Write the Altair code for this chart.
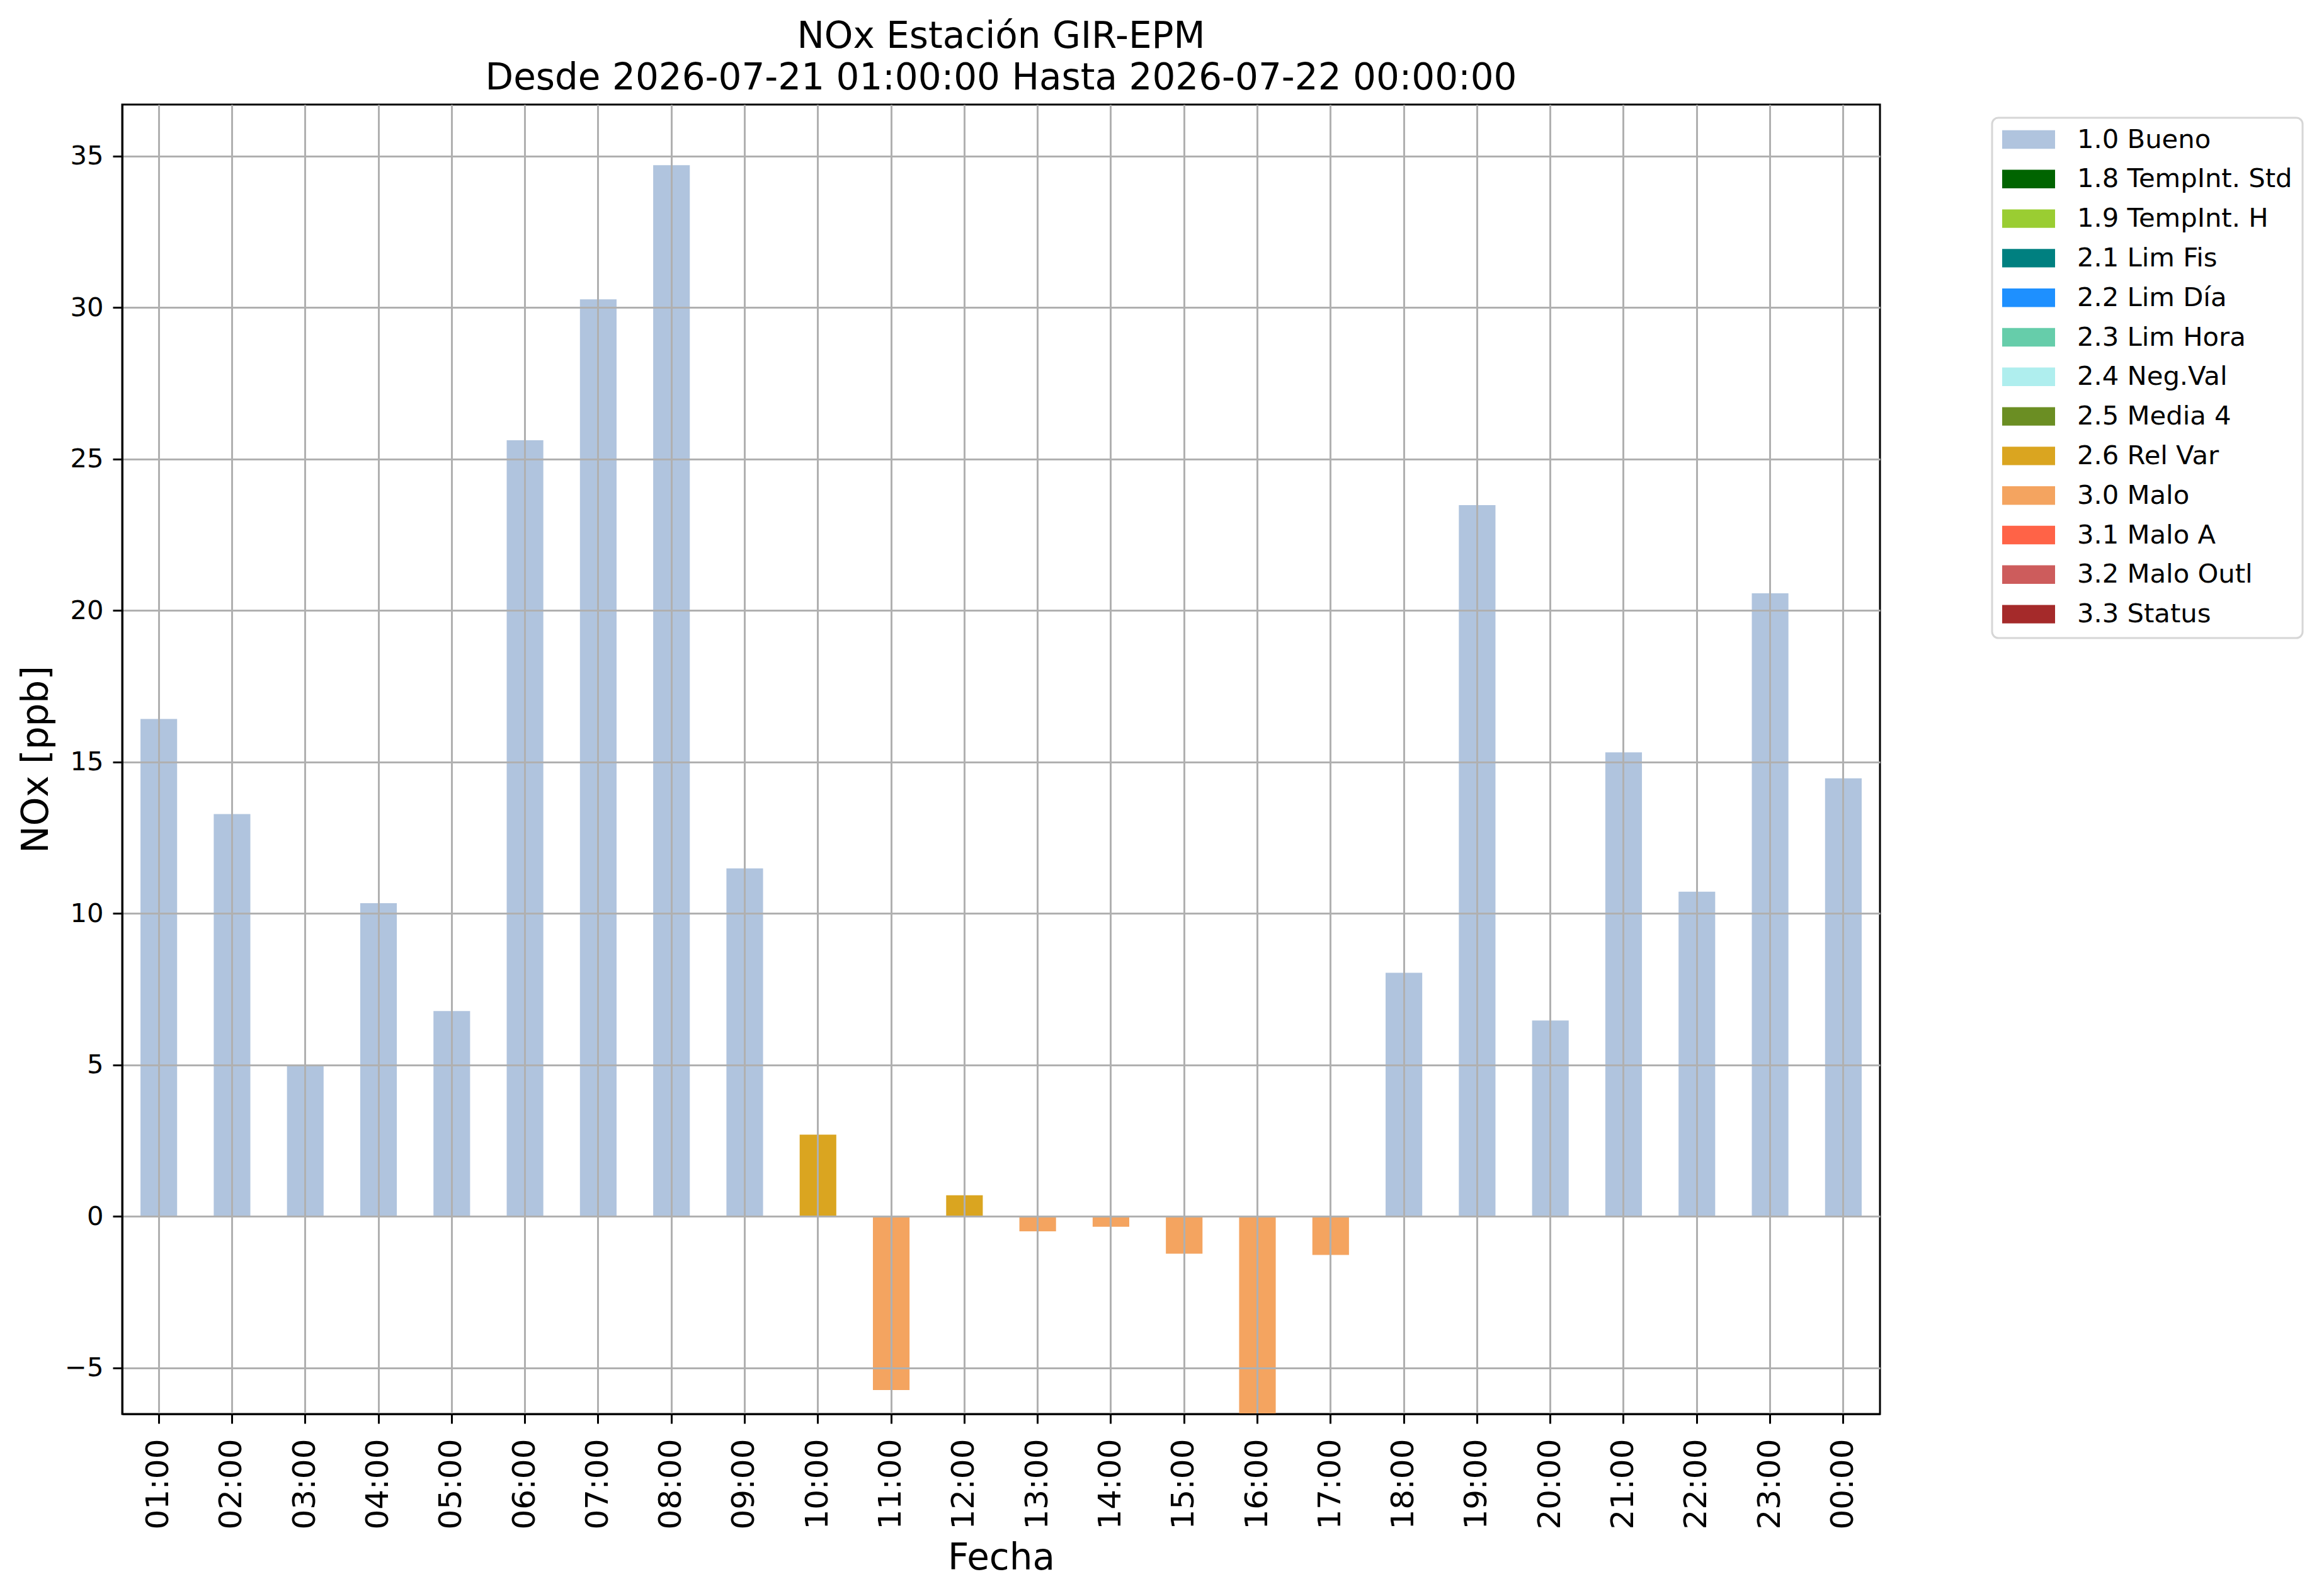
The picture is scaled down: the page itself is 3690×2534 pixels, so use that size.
import altair as alt
import pandas as pd

# ---- data ----
hours = ["01:00", "02:00", "03:00", "04:00", "05:00", "06:00", "07:00", "08:00",
         "09:00", "10:00", "11:00", "12:00", "13:00", "14:00", "15:00", "16:00",
         "17:00", "18:00", "19:00", "20:00", "21:00", "22:00", "23:00", "00:00"]
values = [16.42, 13.28, 5.00, 10.34, 6.78, 25.62, 30.27, 34.70,
          11.49, 2.70, -5.73, 0.70, -0.49, -0.34, -1.23, -6.52,
          -1.27, 8.04, 23.48, 6.47, 15.32, 10.72, 20.57, 14.46]
flags = ["1.0 Bueno"] * 9 + ["2.6 Rel Var", "3.0 Malo", "2.6 Rel Var"] + \
        ["3.0 Malo"] * 5 + ["1.0 Bueno"] * 7

flag_labels = ["1.0 Bueno", "1.8 TempInt. Std", "1.9 TempInt. H", "2.1 Lim Fis",
               "2.2 Lim Día", "2.3 Lim Hora", "2.4 Neg.Val", "2.5 Media 4",
               "2.6 Rel Var", "3.0 Malo", "3.1 Malo A", "3.2 Malo Outl", "3.3 Status"]
flag_colors = ["#B0C4DE", "#006400", "#9ACD32", "#008080", "#1E90FF", "#66CDAA",
               "#AFEEEE", "#6B8E23", "#DAA520", "#F4A460", "#FF6347", "#CD5C5C",
               "#A52A2A"]

y_ticks = [-5, 0, 5, 10, 15, 20, 25, 30, 35]

title_lines = ["NOx Estación GIR-EPM",
               "Desde 2026-07-21 01:00:00 Hasta 2026-07-22 00:00:00"]

df = pd.DataFrame({"hora": hours, "valor": values, "flag": flags})

FONT = "DejaVu Sans"
W, H = 2791, 2079

chart = alt.Chart(df).mark_bar().encode(
    x=alt.X("hora:N", sort=hours,
            scale=alt.Scale(paddingInner=0.5, paddingOuter=0.25),
            axis=alt.Axis(title="Fecha", labelAngle=270, labelFontSize=50,
                          labelFont=FONT, labelColor="black", labelPadding=24,
                          tickSize=15, tickWidth=3, tickColor="black",
                          bandPosition=0.5,
                          domainColor="black", domainWidth=3,
                          grid=True, gridColor="#b0b0b0", gridWidth=3,
                          titleFont=FONT, titleFontSize=58, titleFontWeight="normal",
                          titleColor="black", titleX=W / 2, titleY=246,
                          titleBaseline="alphabetic", titleAlign="center",
                          zindex=1)),
    y=alt.Y("valor:Q",
            scale=alt.Scale(domain=[-6.52, 36.7], nice=False, zero=False),
            axis=alt.Axis(title="NOx [ppb]", values=y_ticks, labelFontSize=41.7,
                          labelFont=FONT, labelColor="black", labelPadding=15,
                          tickSize=15, tickWidth=3, tickColor="black",
                          domainColor="black", domainWidth=3,
                          grid=True, gridColor="#b0b0b0", gridWidth=3,
                          titleFont=FONT, titleFontSize=58, titleFontWeight="normal",
                          titleColor="black", titleAngle=270, titleX=-119,
                          titleY=H / 2, titleBaseline="alphabetic",
                          titleAlign="center", zindex=1)),
    color=alt.Color("flag:N",
                    scale=alt.Scale(domain=flag_labels, range=flag_colors),
                    legend=alt.Legend(title=None, orient="none", legendX=2969,
                                      legendY=21, values=flag_labels,
                                      symbolType="M-1,-0.35H1V0.35H-1Z",
                                      symbolSize=7056, symbolStrokeWidth=0,
                                      symbolOpacity=1,
                                      clipHeight=37, rowPadding=19.8,
                                      padding=16, labelOffset=35,
                                      labelFont=FONT, labelFontSize=41.7,
                                      labelColor="black", labelLimit=0,
                                      fillColor="white", strokeColor="#d6d6d6",
                                      cornerRadius=10)),
).properties(
    width=W, height=H,
    title=alt.TitleParams(text=title_lines, font=FONT, fontSize=58,
                          fontWeight="normal", color="black", anchor="middle",
                          frame="group", offset=11, lineHeight=66,
                          baseline="bottom", dy=57),
    autosize=alt.AutoSizeParams(type="none"),
    padding={"left": 186, "top": 158, "right": 690, "bottom": 280},
    background="white",
).configure_view(stroke="black", strokeWidth=3
).configure_legend(strokeWidth=3)

chart.save("out.html", embed_options={"renderer": "svg", "actions": False})
